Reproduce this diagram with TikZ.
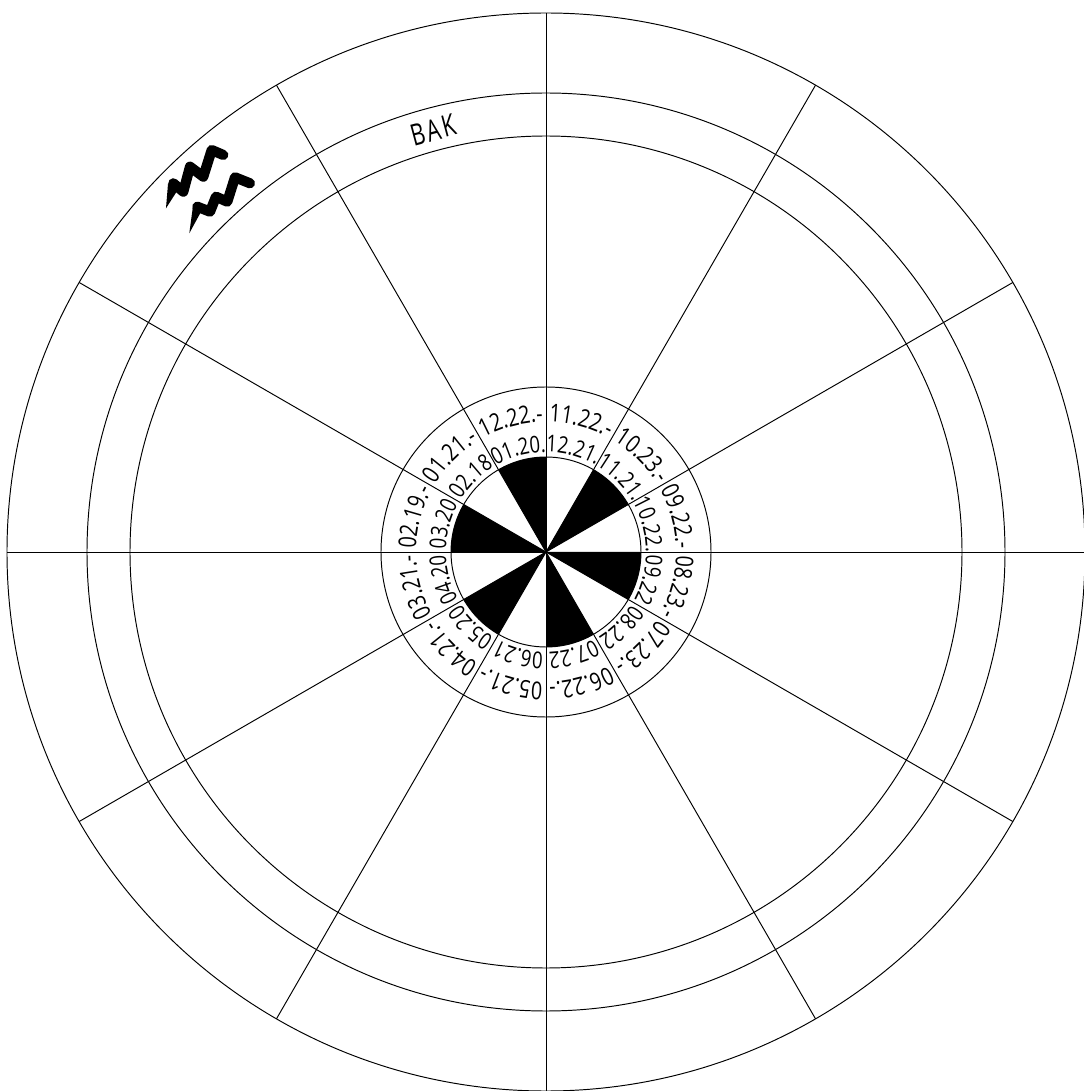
\documentclass[tikz,border=0pt]{standalone}
\usepackage{fontspec}
\setmainfont{Open Sans}
\newfontfamily\datefont[FakeStretch=0.8]{Open Sans}
\newfontfamily\bakfont[FakeStretch=0.72,LetterSpace=8]{Open Sans}
\usetikzlibrary{decorations.text}
\tikzset{
    wheel/.style={line width=0.55pt, black},
    sign/.style={line width=5.8pt, black, line cap=round, line join=round},
}
\newcommand{\outerfont}{\datefont\fontsize{14}{15}\selectfont}
\newcommand{\innerfont}{\datefont\fontsize{13.2}{15}\selectfont}
% one date label on the arc of a sector, clockwise from angle #1
\newcommand{\datelabel}[4]{%
    \path[decorate, decoration={text along path, text align=center,
        text={|#3|#4}}]
        (#1:#2) arc[start angle=#1, end angle=#1-30, radius=#2];
}
\begin{document}
\begin{tikzpicture}[x=0.02cm, y=0.02cm]
    \useasboundingbox (-546,-539) rectangle (538,552);
    % Black sectors of the hub
    \foreach \a in {30,90,150,210,270,330} {
        \fill[black] (0,0) -- (\a:95) arc[start angle=\a, end angle=\a+30, radius=95] -- cycle;
    }
    % Spokes
    \foreach \a in {0,30,...,330} {
        \draw[wheel] (0,0) -- (\a:539);
    }
    % Rings
    \foreach \r in {95,165,416,459,539} {
        \draw[wheel] (0,0) circle (\r);
    }
    % Dates, outer ring
    \datelabel{90}{130}{\outerfont}{11.22.-}
    \datelabel{60}{130}{\outerfont}{10.23.-}
    \datelabel{30}{130}{\outerfont}{09.22.-}
    \datelabel{0}{130}{\outerfont}{08.23.-}
    \datelabel{-30}{130}{\outerfont}{07.23.-}
    \datelabel{-60}{130}{\outerfont}{06.22.-}
    \datelabel{-90}{130}{\outerfont}{05.21.-}
    \datelabel{-120}{130}{\outerfont}{04.21.-}
    \datelabel{-150}{130}{\outerfont}{03.21.-}
    \datelabel{180}{130}{\outerfont}{02.19.-}
    \datelabel{150}{130}{\outerfont}{01.21.-}
    \datelabel{120}{130}{\outerfont}{12.22.-}
    % Dates, inner ring
    \datelabel{90}{100}{\innerfont}{12.21.}
    \datelabel{60}{100}{\innerfont}{11.21.}
    \datelabel{30}{100}{\innerfont}{10.22.}
    \datelabel{0}{100}{\innerfont}{09.22}
    \datelabel{-30}{100}{\innerfont}{08.22}
    \datelabel{-60}{100}{\innerfont}{07.22}
    \datelabel{-90}{100}{\innerfont}{06.21}
    \datelabel{-120}{100}{\innerfont}{05.20}
    \datelabel{-150}{100}{\innerfont}{04.20}
    \datelabel{180}{100}{\innerfont}{03.20}
    \datelabel{150}{100}{\innerfont}{02.18}
    \datelabel{120}{100}{\innerfont}{01.20.}
    % Aquarius sign
    \draw[sign] (-372.7,368.7) -- (-362.7,360.3) -- (-356,385.3) -- (-342.7,375.3)
        -- (-334.3,402) -- (-322.7,397);
    \fill[black] (-380,343.7) -- (-378,368) -- (-367,364) -- cycle;
    \draw[sign] (-348.7,345.3) -- (-336,340.3) -- (-330,355.3) -- (-318.7,350.3)
        -- (-311,374.7) -- (-296,368.7);
    \fill[black] (-356.7,318.7) -- (-353,346) -- (-344,342) -- cycle;
    % Ring title
    \node[rotate=15, inner sep=0pt] (bak) at (-113,422) {\bakfont\fontsize{17}{18}\selectfont BAK};
\end{tikzpicture}
\end{document}
